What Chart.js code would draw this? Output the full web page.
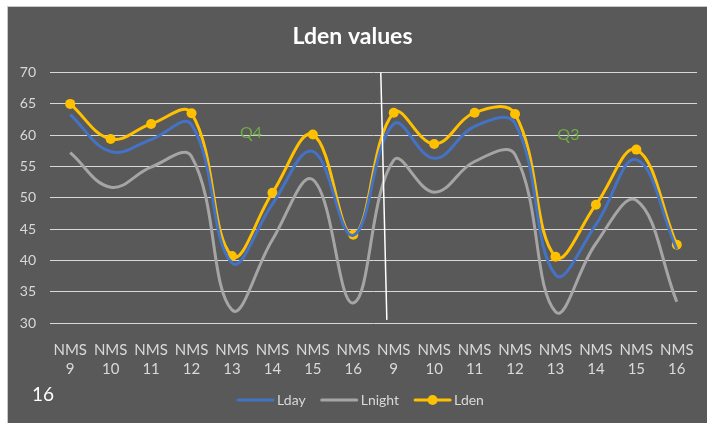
<!DOCTYPE html>
<html lang="en">
<head>
    <meta charset="UTF-8">
    <title>Lden values</title>
    <style>
        html, body {
            margin: 0;
            padding: 0;
            background: #fff;
            overflow: hidden;
        }
        .frame {
            position: absolute;
            left: 7px;
            top: 6px;
            width: 700px;
            height: 417px;
            border-left: 1px solid #c8c8c8;
            border-top: 1px solid #c8c8c8;
            background: #595959;
        }
        canvas {
            display: block;
        }
    </style>
</head>
<body>
    <div class="frame">
        <canvas id="chart" width="699" height="416"></canvas>
    </div>
    <script src="https://cdn.jsdelivr.net/npm/chart.js"></script>
    <script>
        const stations = [
            ['NMS', '9'], ['NMS', '10'], ['NMS', '11'], ['NMS', '12'],
            ['NMS', '13'], ['NMS', '14'], ['NMS', '15'], ['NMS', '16'],
            ['NMS', '9'], ['NMS', '10'], ['NMS', '11'], ['NMS', '12'],
            ['NMS', '13'], ['NMS', '14'], ['NMS', '15'], ['NMS', '16']
        ];
        const lday = [63.3, 57.4, 59.3, 61.7, 39.6, 49.0, 57.4, 44.0, 61.8, 56.3, 61.4, 61.9, 37.7, 45.7, 56.1, 41.8];
        const lnight = [57.2, 51.7, 54.9, 56.6, 32.1, 43.3, 52.9, 33.2, 56.0, 50.9, 55.8, 56.9, 31.8, 42.7, 49.6, 33.4];
        const lden = [65.0, 59.4, 61.8, 63.5, 40.7, 50.8, 60.1, 44.1, 63.6, 58.6, 63.6, 63.4, 40.6, 48.9, 57.7, 42.5];
        const yTicks = [30, 35, 40, 45, 50, 55, 60, 65, 70];

        // quarter labels, placed in data space (category index, value)
        const quarterNotes = [
            { text: 'Q4', x: 4.47, y: 60.4 },
            { text: 'Q3', x: 12.32, y: 60.1 }
        ];
        // hand drawn separator between the two quarters
        const divider = { x1: 7.68, y1: 70, x2: 7.83, y2: 30.5 };

        const textColor = '#D9D9D9';
        const font = 'Lato, "Open Sans", sans-serif';

        const extras = {
            id: 'extras',
            afterDatasetsDraw(chart) {
                const ctx = chart.ctx;
                const x = chart.scales.x, y = chart.scales.y;
                const step = x.getPixelForValue(1) - x.getPixelForValue(0);
                const px = v => x.getPixelForValue(0) + v * step;

                ctx.save();
                ctx.strokeStyle = '#ffffff';
                ctx.lineWidth = 1.5;
                ctx.beginPath();
                ctx.moveTo(px(divider.x1), y.getPixelForValue(divider.y1));
                ctx.lineTo(px(divider.x2), y.getPixelForValue(divider.y2));
                ctx.stroke();

                ctx.fillStyle = '#70AD47';
                ctx.font = '16px ' + font;
                ctx.textAlign = 'center';
                ctx.textBaseline = 'middle';
                quarterNotes.forEach(q => {
                    ctx.fillText(q.text, px(q.x), y.getPixelForValue(q.y));
                });
                ctx.restore();
            },
            afterDraw(chart) {
                const ctx = chart.ctx;
                ctx.save();
                // page number in the corner
                ctx.fillStyle = '#ffffff';
                ctx.font = '19px ' + font;
                ctx.textBaseline = 'middle';
                ctx.fillText('16', 24, 388);

                // legend: line swatch, text right after it
                ctx.font = '14px ' + font;
                const sets = chart.data.datasets;
                const lineLen = 37, textGap = 3, itemGap = 15;
                const widths = sets.map(ds => lineLen + textGap + ctx.measureText(ds.label).width);
                const total = widths.reduce((a, b) => a + b, 0) + itemGap * (sets.length - 1);
                let lx = (chart.width - total) / 2 + 3;
                const ly = 393;
                sets.forEach((ds, i) => {
                    ctx.strokeStyle = ds.borderColor;
                    ctx.lineWidth = 3;
                    ctx.lineCap = 'round';
                    ctx.beginPath();
                    ctx.moveTo(lx + 1, ly);
                    ctx.lineTo(lx + lineLen - 1, ly);
                    ctx.stroke();
                    if (ds.pointRadius > 0) {
                        ctx.fillStyle = ds.borderColor;
                        ctx.beginPath();
                        ctx.arc(lx + lineLen / 2, ly, 5, 0, Math.PI * 2);
                        ctx.fill();
                    }
                    ctx.fillStyle = textColor;
                    ctx.textAlign = 'left';
                    ctx.fillText(ds.label, lx + lineLen + textGap, ly);
                    lx += widths[i] + itemGap;
                });
                ctx.restore();
            }
        };

        const lineSet = (label, data, color, points) => ({
            label: label,
            data: data,
            borderColor: color,
            backgroundColor: color,
            borderWidth: 3,
            tension: 0.4,
            pointRadius: points ? 5 : 0,
            pointHoverRadius: points ? 5 : 0,
            pointBackgroundColor: color,
            pointBorderWidth: 0
        });

        new Chart(document.getElementById('chart'), {
            type: 'line',
            data: {
                labels: stations,
                datasets: [
                    lineSet('Lday', lday, '#4472C4', false),
                    lineSet('Lnight', lnight, '#A5A5A5', false),
                    lineSet('Lden', lden, '#FFC000', true)
                ]
            },
            options: {
                responsive: false,
                animation: false,
                layout: { padding: { left: 0, right: 10, bottom: 35 } },
                plugins: {
                    title: {
                        display: true,
                        text: 'Lden values',
                        color: '#ffffff',
                        font: { family: font, size: 23, weight: 'bold' },
                        padding: { top: 16, bottom: 22 }
                    },
                    legend: { display: false },
                    tooltip: { enabled: false }
                },
                scales: {
                    x: {
                        offset: true,
                        grid: { display: false },
                        border: { display: false },
                        ticks: {
                            color: textColor,
                            font: { family: font, size: 15, lineHeight: 1.3 },
                            maxRotation: 0,
                            autoSkip: false,
                            padding: 9
                        }
                    },
                    y: {
                        min: 30,
                        max: 70,
                        afterFit(scale) { scale.width = 42; },
                        afterBuildTicks(scale) { scale.ticks = yTicks.map(v => ({ value: v })); },
                        grid: { color: '#D9D9D9', lineWidth: 1, drawTicks: false },
                        border: { display: false },
                        ticks: {
                            color: textColor,
                            font: { family: font, size: 14 },
                            padding: 14
                        }
                    }
                }
            },
            plugins: [extras]
        });
    </script>
</body>
</html>
